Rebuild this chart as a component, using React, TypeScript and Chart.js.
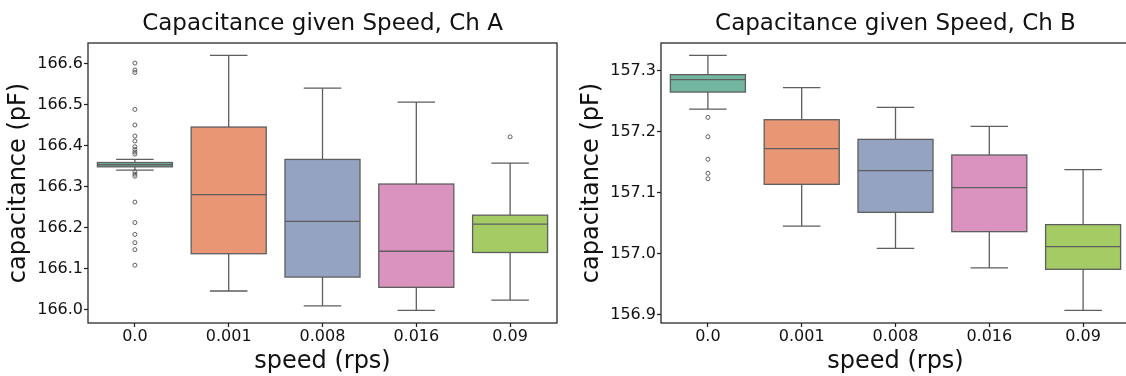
import React, { useEffect, useRef } from 'react';
import { Chart, registerables } from 'chart.js';

Chart.register(...registerables);

// Rotation speed groups (rps)
const speeds = ['0.0', '0.001', '0.008', '0.016', '0.09'];
const boxFill = ['#72b6a1', '#e99675', '#95a3c3', '#da93bf', '#a4cb64'];

// Channel A capacitance (pF): whisker ends, quartiles, medians, fliers
const aWhiskerLow = [166.34, 166.045, 166.009, 165.998, 166.023];
const aQ1 = [166.348, 166.136, 166.079, 166.054, 166.139];
const aMedian = [166.353, 166.28, 166.215, 166.142, 166.208];
const aQ3 = [166.3585, 166.445, 166.366, 166.306, 166.23];
const aWhiskerHigh = [166.366, 166.62, 166.54, 166.506, 166.357];
const aOutliers = [
  [
    166.601, 166.584, 166.578, 166.488, 166.45, 166.423, 166.411, 166.397, 166.39,
    166.384, 166.379, 166.336, 166.33, 166.325, 166.262, 166.212, 166.183, 166.163,
    166.146, 166.108,
  ],
  [],
  [],
  [],
  [166.421],
];
const aTicks = [166.0, 166.1, 166.2, 166.3, 166.4, 166.5, 166.6];
const aRange = [165.967, 166.65];

// Channel B capacitance (pF)
const bWhiskerLow = [157.2375, 157.0453, 157.0087, 156.9764, 156.9069];
const bQ1 = [157.2654, 157.1138, 157.0678, 157.0361, 156.9742];
const bMedian = [157.2857, 157.1724, 157.1363, 157.1084, 157.0115];
const bQ3 = [157.294, 157.22, 157.1877, 157.162, 157.0476];
const bWhiskerHigh = [157.3256, 157.2726, 157.2402, 157.209, 157.138];
const bOutliers = [[157.2238, 157.192, 157.155, 157.132, 157.123], [], [], [], []];
const bTicks = [156.9, 157.0, 157.1, 157.2, 157.3];
const bRange = [156.886, 157.346];

const LINE = '#5e5e5e';
const SPINE = '#222222';
const TEXT = '#111111';
const FONT = '"DejaVu Sans", "Liberation Sans", sans-serif';

type Stats = {
  lo: number[];
  q1: number[];
  med: number[];
  q3: number[];
  hi: number[];
  fliers: number[][];
};

function boxPlugin(stats: Stats, title: string) {
  return {
    id: 'boxWhiskers',
    afterDatasetsDraw(chart: any) {
      const { ctx, scales } = chart;
      const x = scales.x;
      const y = scales.y;
      const meta = chart.getDatasetMeta(0);
      ctx.save();
      ctx.strokeStyle = LINE;
      ctx.lineWidth = 1.3;
      stats.q1.forEach((q1: number, i: number) => {
        const cx = x.getPixelForValue(i);
        const bar = meta.data[i];
        const half = bar ? bar.width / 2 : 37;
        const capHalf = half / 2;
        const yLo = y.getPixelForValue(stats.lo[i]);
        const yQ1 = y.getPixelForValue(q1);
        const yQ3 = y.getPixelForValue(stats.q3[i]);
        const yHi = y.getPixelForValue(stats.hi[i]);
        const yMed = y.getPixelForValue(stats.med[i]);
        // box outline centred on the quartile edges
        ctx.strokeRect(cx - half, yQ3, half * 2, yQ1 - yQ3);
        ctx.beginPath();
        // whiskers
        ctx.moveTo(cx, yQ3);
        ctx.lineTo(cx, yHi);
        ctx.moveTo(cx, yQ1);
        ctx.lineTo(cx, yLo);
        // caps
        ctx.moveTo(cx - capHalf, yHi);
        ctx.lineTo(cx + capHalf, yHi);
        ctx.moveTo(cx - capHalf, yLo);
        ctx.lineTo(cx + capHalf, yLo);
        // median
        ctx.moveTo(cx - half, yMed);
        ctx.lineTo(cx + half, yMed);
        ctx.stroke();
      });
      ctx.restore();
    },
    afterDraw(chart: any) {
      const { ctx, chartArea } = chart;
      const { left, right, top, bottom } = chartArea;
      ctx.save();
      ctx.strokeStyle = SPINE;
      ctx.lineWidth = 1.25;
      ctx.strokeRect(left, top, right - left, bottom - top);
      ctx.fillStyle = TEXT;
      ctx.font = `23px ${FONT}`;
      ctx.textAlign = 'center';
      ctx.textBaseline = 'alphabetic';
      ctx.fillText(title, (left + right) / 2, 30);
      ctx.restore();
    },
  };
}

function makeConfig(stats: Stats, ticks: number[], range: number[], title: string): any {
  const fliers: { x: string; y: number }[] = [];
  stats.fliers.forEach((list, i) => list.forEach((v) => fliers.push({ x: speeds[i], y: v })));
  return {
    type: 'bar',
    data: {
      labels: speeds,
      datasets: [
        {
          type: 'bar',
          data: speeds.map((_, i) => [stats.q1[i], stats.q3[i]]),
          backgroundColor: boxFill,
          borderWidth: 0,
          borderSkipped: false,
          categoryPercentage: 0.8,
          barPercentage: 1.0,
          order: 2,
        },
        {
          type: 'scatter',
          data: fliers,
          pointStyle: 'circle',
          pointRadius: 2,
          pointBorderWidth: 1,
          pointBorderColor: LINE,
          pointBackgroundColor: 'rgba(255,255,255,0)',
          showLine: false,
          order: 1,
        },
      ],
    },
    options: {
      responsive: false,
      maintainAspectRatio: false,
      devicePixelRatio: 1,
      animation: false,
      layout: { padding: { top: 43, right: 13, left: 0, bottom: 0 } },
      plugins: { legend: { display: false }, tooltip: { enabled: false }, title: { display: false } },
      scales: {
        x: {
          type: 'category',
          offset: true,
          afterFit: (s: any) => {
            s.height = 53;
          },
          grid: {
            offset: false,
            drawOnChartArea: false,
            drawTicks: true,
            tickLength: 4,
            tickColor: SPINE,
            tickWidth: 1.25,
          },
          border: { display: false },
          ticks: {
            color: TEXT,
            font: { family: FONT, size: 16 },
            padding: 0,
            maxRotation: 0,
            autoSkip: false,
          },
          title: {
            display: true,
            text: 'speed (rps)',
            color: TEXT,
            font: { family: FONT, size: 24 },
            padding: { top: 0, bottom: 0 },
          },
        },
        y: {
          type: 'linear',
          min: range[0],
          max: range[1],
          afterFit: (s: any) => {
            s.width = 88;
          },
          afterBuildTicks: (s: any) => {
            s.ticks = ticks.map((v) => ({ value: v }));
          },
          grid: {
            drawOnChartArea: false,
            drawTicks: true,
            tickLength: 4,
            tickColor: SPINE,
            tickWidth: 1.25,
          },
          border: { display: false },
          ticks: {
            color: TEXT,
            font: { family: FONT, size: 16 },
            padding: 1,
            callback: (v: any) => Number(v).toFixed(1),
          },
          title: {
            display: true,
            text: 'capacitance (pF)',
            color: TEXT,
            font: { family: FONT, size: 24 },
            padding: { top: 4, bottom: 0 },
          },
        },
      },
    },
    plugins: [boxPlugin(stats, title)],
  };
}

function BoxChart(props: { stats: Stats; ticks: number[]; range: number[]; title: string; left: number }) {
  const ref = useRef<HTMLCanvasElement | null>(null);
  useEffect(() => {
    if (!ref.current) return;
    const chart = new Chart(ref.current, makeConfig(props.stats, props.ticks, props.range, props.title));
    return () => chart.destroy();
  }, []);
  return (
    <canvas
      ref={ref}
      width={570}
      height={376}
      style={{ position: 'absolute', left: props.left, top: 0, width: 570, height: 376 }}
    />
  );
}

const statsA: Stats = {
  lo: aWhiskerLow,
  q1: aQ1,
  med: aMedian,
  q3: aQ3,
  hi: aWhiskerHigh,
  fliers: aOutliers,
};

const statsB: Stats = {
  lo: bWhiskerLow,
  q1: bQ1,
  med: bMedian,
  q3: bQ3,
  hi: bWhiskerHigh,
  fliers: bOutliers,
};

export default function App() {
  return (
    <div
      style={{
        position: 'fixed',
        left: 0,
        top: 0,
        width: 1126,
        height: 376,
        overflow: 'hidden',
        background: '#ffffff',
      }}
    >
      <BoxChart stats={statsA} ticks={aTicks} range={aRange} title="Capacitance given Speed, Ch A" left={0} />
      <BoxChart stats={statsB} ticks={bTicks} range={bRange} title="Capacitance given Speed, Ch B" left={573} />
    </div>
  );
}
